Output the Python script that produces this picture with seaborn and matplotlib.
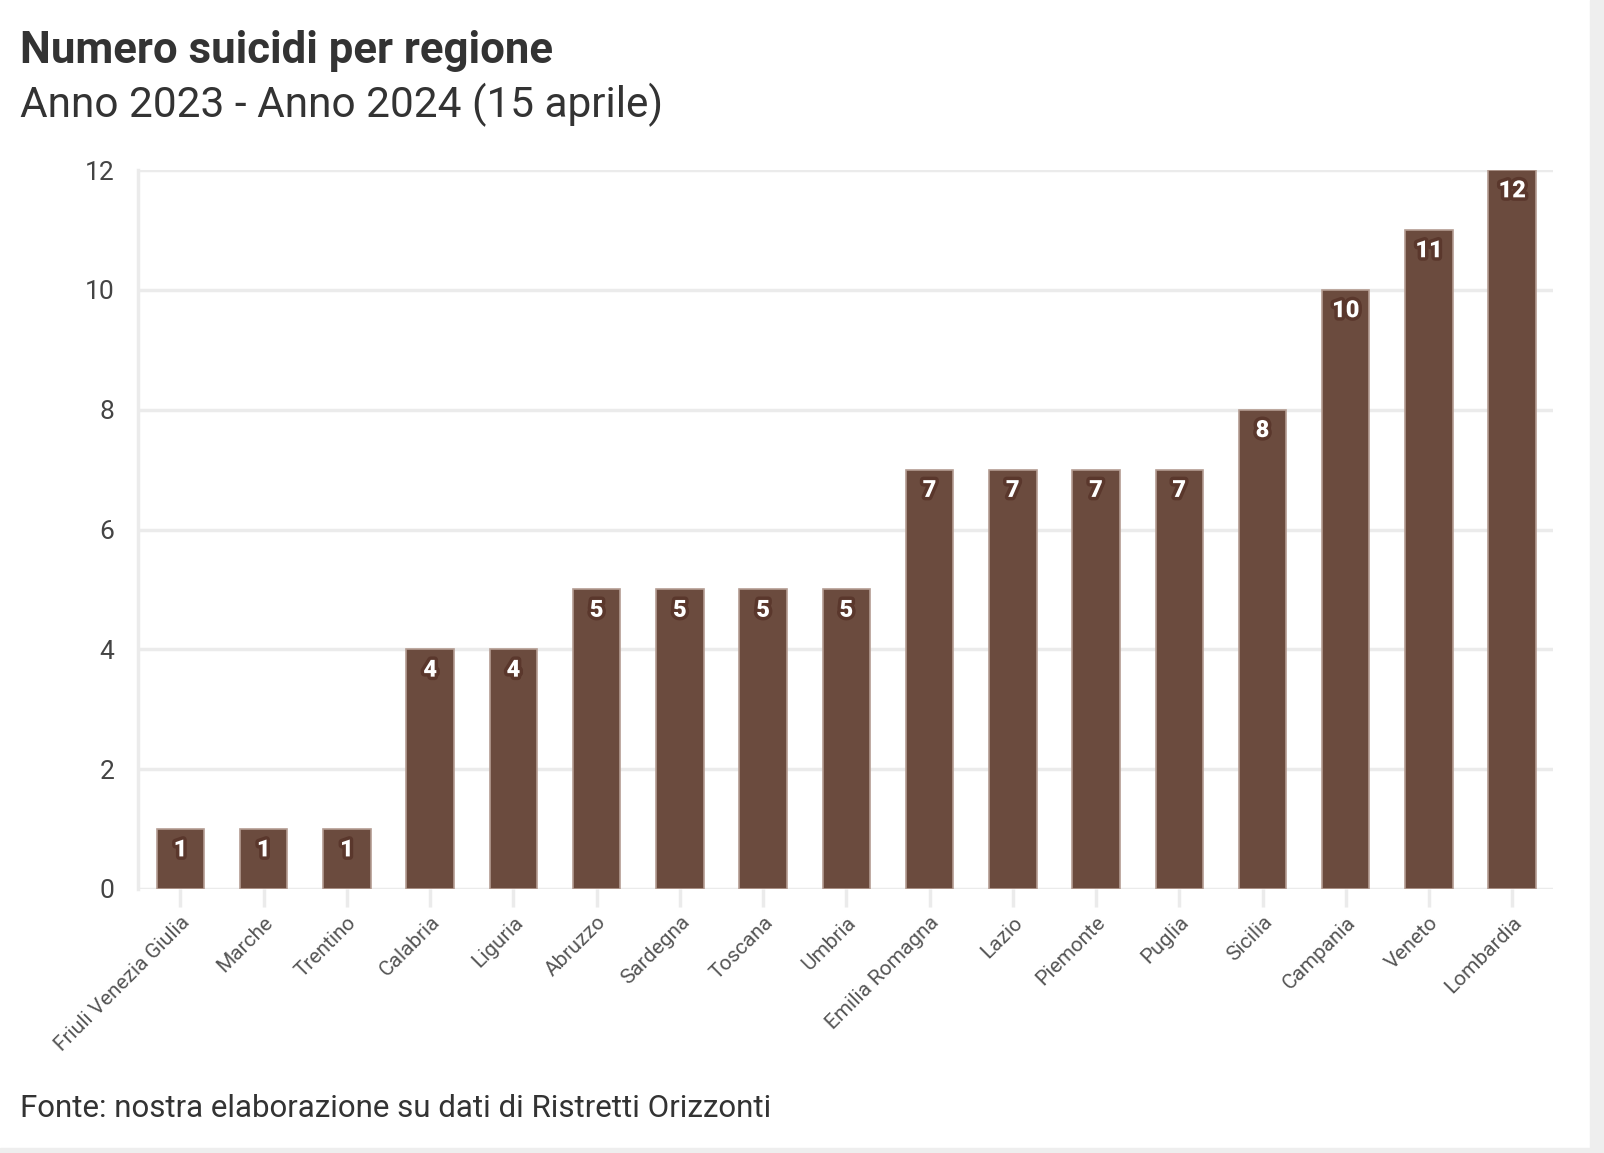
import numpy as np
import pandas as pd
import matplotlib.pyplot as plt
import matplotlib.patheffects as pe
import seaborn as sns

regioni = ['Friuli Venezia Giulia', 'Marche', 'Trentino', 'Calabria', 'Liguria',
           'Abruzzo', 'Sardegna', 'Toscana', 'Umbria', 'Emilia Romagna', 'Lazio',
           'Piemonte', 'Puglia', 'Sicilia', 'Campania', 'Veneto', 'Lombardia']
suicidi = [1, 1, 1, 4, 4, 5, 5, 5, 5, 7, 7, 7, 7, 8, 10, 11, 12]
y_ticks = [0, 2, 4, 6, 8, 10, 12]

titolo = 'Numero suicidi per regione'
sottotitolo = 'Anno 2023 - Anno 2024 (15 aprile)'
fonte = 'Fonte: nostra elaborazione su dati di Ristretti Orizzonti'

df = pd.DataFrame({'regione': regioni, 'suicidi': suicidi})

sns.set_style('white')
plt.rcParams['font.family'] = ['Roboto', 'DejaVu Sans']

W, H = 1604, 1153
fig = plt.figure(figsize=(W / 100, H / 100), dpi=100)
ax = fig.add_axes([138 / W, 1 - 889 / H, (1553 - 138) / W, (889 - 170) / H])

brown = '#6b4b3e'
grid = '#ebebeb'
sns.barplot(data=df, x='regione', y='suicidi', ax=ax, color=brown, width=0.57,
            saturation=1, edgecolor='#b49c92', linewidth=1.2, zorder=3)

ax.set_xlim(-0.51, len(regioni) - 0.51)
ax.set_ylim(0, 12)
ax.set_yticks(y_ticks)
ax.set_yticklabels([str(v) for v in y_ticks])
ax.yaxis.grid(True, color=grid, linewidth=2.5, zorder=0)
ax.set_xlabel('')
ax.set_ylabel('')

for s in ['top', 'right', 'bottom']:
    ax.spines[s].set_visible(False)
ax.spines['left'].set_color(grid)
ax.spines['left'].set_linewidth(2.5)

ax.tick_params(axis='y', length=13, width=2.5, color=grid, pad=4,
               labelsize=19, labelcolor='#444444')
ax.tick_params(axis='x', length=13, width=2.5, color=grid, pad=4,
               labelsize=15, labelcolor='#555555', bottom=True)
plt.setp(ax.get_xticklabels(), rotation=45, ha='right', rotation_mode='anchor')

for i, v in enumerate(suicidi):
    ax.annotate(str(v), (i, v), xytext=(0, -15), textcoords='offset points',
                ha='center', va='center', color='white', fontsize=17,
                fontweight='heavy', zorder=5,
                path_effects=[pe.withStroke(linewidth=5, foreground='#5a372c')])

fig.text(20 / W, 1 - 63 / H, titolo, fontsize=31.5, fontweight='bold',
         color='#333333', ha='left', va='baseline')
fig.text(20 / W, 1 - 117 / H, sottotitolo, fontsize=30.5, fontweight='normal',
         color='#333333', ha='left', va='baseline')
fig.text(20 / W, 1 - 1117 / H, fonte, fontsize=22.5, fontweight='normal',
         color='#333333', ha='left', va='baseline')

# bordo grigio a destra e in basso
fig.patches.append(plt.Rectangle((1590 / W, 0), 14 / W, 1, transform=fig.transFigure,
                                 color='#eeeeee', zorder=0))
fig.patches.append(plt.Rectangle((0, 0), 1, 5 / H, transform=fig.transFigure,
                                 color='#eeeeee', zorder=0))

fig.savefig('out.png', dpi=100)
